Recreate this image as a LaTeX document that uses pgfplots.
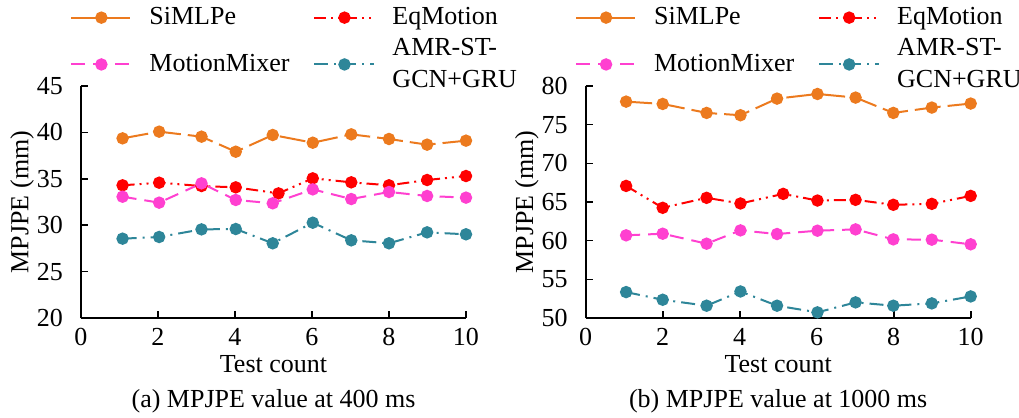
\documentclass[border=0pt]{standalone}
\usepackage{pgfplots}
\pgfplotsset{compat=1.18}
\usepackage{fontspec}
\setmainfont{Liberation Serif}
\setsansfont{Liberation Serif}

\definecolor{cSi}{RGB}{236,122,30}
\definecolor{cEq}{RGB}{255,0,0}
\definecolor{cMM}{RGB}{255,64,208}
\definecolor{cAM}{RGB}{46,134,153}

\pgfplotsset{
  panel/.style={
    scale only axis, width=192.5pt, height=116pt,
    xmin=0, xmax=10, xtick={0,2,...,10},
    axis x line*=bottom, axis y line*=left,
    tick align=inside, major tick length=3.5pt,
    axis line style={line width=0.8pt},
    every tick/.style={black, line width=0.8pt},
    /pgf/number format/assume math mode=true,
    tick label style={font=\rmfamily\fontsize{13}{15.6}\selectfont},
    label style={font=\rmfamily\fontsize{13}{15.6}\selectfont},
    yticklabel style={xshift=-5.5pt},
    xticklabel style={yshift=-1.5pt},
    clip=false,
    xlabel={Test count}, ylabel={MPJPE (mm)},
    xlabel style={at={(rel axis cs:0.5,-0.2)}, anchor=center},
    ylabel style={at={(rel axis cs:-0.153,0.5)}, anchor=center, rotate=0},
    legend columns=2,
    legend cell align=left,
    legend style={draw=none, fill=none, inner sep=0pt,
      at={(rel axis cs:-0.0286,1.34)}, anchor=north west,
      font=\rmfamily\fontsize{13}{15.6}\selectfont,
      nodes={inner sep=0pt, align=left},
      row sep=5.5pt,
      /tikz/every odd column/.append style={column sep=8.5pt},
      /tikz/every even column/.append style={column sep=12pt}},
    legend image code/.code={
      \draw[mark repeat=2, mark phase=2, ##1] plot coordinates {(0pt,0pt) (15pt,0pt) (30pt,0pt)};
    },
  },
  si/.style={color=cSi, line width=1pt, mark=*, mark size=2.6pt, mark options={solid}, dash pattern=on 13pt off 3.5pt},
  eq/.style={color=cEq, line width=1pt, mark=*, mark size=2.6pt, mark options={solid}, dash pattern=on 6pt off 2.5pt on 1pt off 2.5pt on 1pt off 2.5pt},
  mm/.style={color=cMM, line width=1pt, mark=*, mark size=2.6pt, mark options={solid}, dash pattern=on 7pt off 4pt},
  am/.style={color=cAM, line width=1pt, mark=*, mark size=2.6pt, mark options={solid}, dash pattern=on 7pt off 3pt on 1pt off 3pt},
}

\begin{document}
\begin{tikzpicture}[font=\rmfamily\fontsize{13}{15.6}\selectfont]
\useasboundingbox (-40.5pt,-50pt) rectangle (469pt,159pt);
\begin{axis}[panel, ymin=20, ymax=45, ytick={20,25,...,45}]
\addplot[si] coordinates {(1.08,39.36) (2.03,40.08) (3.13,39.54) (4.02,37.92) (4.98,39.72) (6.02,38.89) (7.02,39.79) (8.0,39.29) (8.99,38.68) (10,39.11)};
\addlegendentry{SiMLPe}
\addplot[eq] coordinates {(1.08,34.30) (2.03,34.58) (3.13,34.22) (4.02,34.08) (5.13,33.43) (6.02,35.05) (7.02,34.62) (8.0,34.30) (8.99,34.87) (10,35.30)};
\addlegendentry{EqMotion}
\addplot[mm] coordinates {(1.08,33.07) (2.03,32.43) (3.13,34.51) (4.02,32.72) (4.98,32.36) (6.02,33.86) (7.02,32.82) (8.0,33.58) (8.99,33.15) (10,32.97)};
\addlegendentry{MotionMixer}
\addplot[am] coordinates {(1.08,28.55) (2.03,28.73) (3.13,29.55) (4.02,29.59) (4.98,28.05) (6.02,30.27) (7.02,28.37) (8.0,28.05) (8.99,29.23) (10,29.02)};
\addlegendentry{AMR-ST-\\GCN+GRU}
\node at (rel axis cs:0.5,-0.36) {(a) MPJPE value at 400 ms};
\end{axis}

\begin{axis}[panel, at={(252.35pt,0pt)}, ymin=50, ymax=80, ytick={50,55,...,80}]
\addplot[si] coordinates {(1.05,77.98) (2.0,77.68) (3.14,76.52) (4.02,76.22) (4.97,78.37) (6.02,78.97) (7.01,78.50) (7.99,76.52) (8.99,77.21) (10,77.73)};
\addlegendentry{SiMLPe}
\addplot[eq] coordinates {(1.05,67.08) (2.0,64.25) (3.14,65.54) (4.02,64.81) (5.13,66.05) (6.02,65.19) (7.01,65.28) (7.99,64.64) (8.99,64.76) (10,65.79)};
\addlegendentry{EqMotion}
\addplot[mm] coordinates {(1.05,60.69) (2.0,60.90) (3.14,59.61) (4.02,61.33) (4.97,60.86) (6.02,61.29) (7.01,61.46) (7.99,60.17) (8.99,60.13) (10,59.53)};
\addlegendentry{MotionMixer}
\addplot[am] coordinates {(1.05,53.35) (2.0,52.36) (3.14,51.59) (4.02,53.43) (4.97,51.59) (6.02,50.73) (7.01,52.02) (7.99,51.59) (8.99,51.89) (10,52.79)};
\addlegendentry{AMR-ST-\\GCN+GRU}
\node at (rel axis cs:0.5,-0.36) {(b) MPJPE value at 1000 ms};
\end{axis}
\end{tikzpicture}
\end{document}
